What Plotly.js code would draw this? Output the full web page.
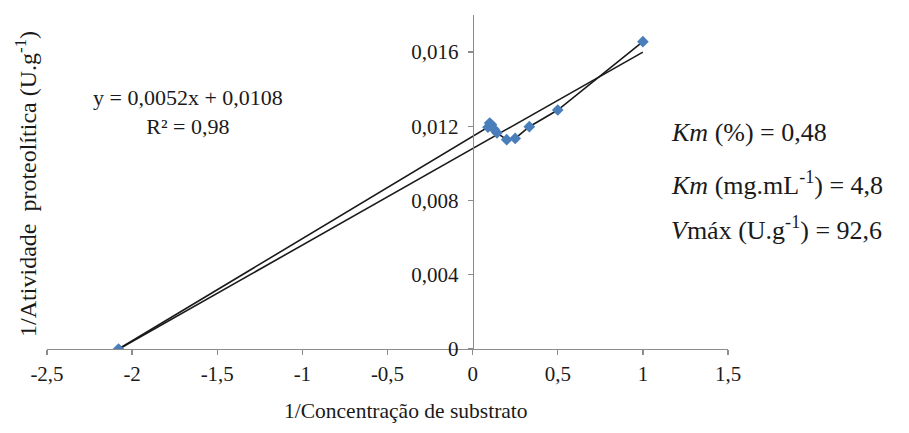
<!DOCTYPE html>
<html>
<head>
<meta charset="utf-8">
<script src="https://cdn.plot.ly/plotly-3.0.1.min.js"></script>
<style>
  html, body { margin: 0; padding: 0; background: #ffffff; }
  #chart { width: 909px; height: 433px; }
</style>
</head>
<body>
<div id="chart"></div>
<script>
// Lineweaver-Burk data: 1/[S] versus 1/v
const invSubstrate = [-2.08, 0.09, 0.10, 0.111, 0.125, 0.143, 0.20, 0.25, 0.333, 0.50, 1.00];
const invActivity  = [0.0000, 0.01195, 0.01218, 0.01208, 0.01185, 0.01165, 0.01128, 0.01135, 0.01198, 0.01288, 0.01656];

// Linear regression reported on the chart
const slope = 0.0052;
const intercept = 0.0108;
const rSquared = '0,98';
const trendX = [-2.08, 1.00];

// Axis ticks
const xTickVals = [-2.5, -2, -1.5, -1, -0.5, 0, 0.5, 1, 1.5];
const xTickText = ['-2,5', '-2', '-1,5', '-1', '-0,5', '0', '0,5', '1', '1,5'];
const yTickVals = [0, 0.004, 0.008, 0.012, 0.016];
const yTickText = ['0', '0,004', '0,008', '0,012', '0,016'];

const trendY = trendX.map(x => slope * x + intercept);
const fmt = v => v.toFixed(4).replace('.', ',');

const serif = '"Liberation Serif", "Times New Roman", serif';
const axisGrey = '#8c8c8c';
const ink = '#1a1a1a';

const traces = [
  {
    x: trendX, y: trendY, type: 'scatter', mode: 'lines',
    line: { color: ink, width: 1.6 },
    hoverinfo: 'skip', showlegend: false
  },
  {
    x: invSubstrate, y: invActivity, type: 'scatter', mode: 'lines+markers',
    line: { color: ink, width: 1.6 },
    marker: { symbol: 'diamond', size: 9, color: '#4a7ebb' },
    showlegend: false
  }
];

const xMin = -2.5, xMax = 1.5;

const layout = {
  width: 909, height: 433,
  margin: { l: 47, r: 181, t: 15, b: 84 },
  paper_bgcolor: '#ffffff', plot_bgcolor: '#ffffff',
  font: { family: serif, size: 21, color: ink },
  xaxis: {
    range: [xMin, xMax], tickvals: xTickVals, ticktext: xTickText,
    showgrid: false, zeroline: false, showline: true, linecolor: axisGrey, linewidth: 1.3,
    ticks: 'outside', ticklen: 5, tickcolor: axisGrey, tickwidth: 1.3,
    tickfont: { family: serif, size: 21, color: ink }
  },
  yaxis: {
    range: [0, 0.018], tickvals: yTickVals, ticktext: yTickText,
    anchor: 'free', position: (0 - xMin) / (xMax - xMin),
    showgrid: false, zeroline: false, showline: true, linecolor: axisGrey, linewidth: 1.3,
    ticks: 'outside', ticklen: 5, tickcolor: axisGrey, tickwidth: 1.3, ticklabelstandoff: 5,
    tickfont: { family: serif, size: 21, color: ink }
  },
  annotations: [
    { xref: 'paper', yref: 'paper', x: 0.527, y: -0.185, yanchor: 'middle', xanchor: 'center', showarrow: false,
      text: '1/Concentração de substrato', font: { family: serif, size: 21.5, color: ink } },
    { xref: 'paper', yref: 'paper', x: -0.032, y: 0.495, xanchor: 'center', yanchor: 'middle', showarrow: false, textangle: -90,
      text: '1/Atividade  proteolítica (U.g<sup>-1</sup>)', font: { family: serif, size: 24, color: ink } },
    { xref: 'paper', yref: 'paper', x: 0.207, y: 0.71, xanchor: 'center', yanchor: 'middle', showarrow: false,
      text: 'y = ' + fmt(slope) + 'x + ' + fmt(intercept) + '<br>R² = ' + rSquared,
      font: { family: serif, size: 22, color: ink } },
    { xref: 'paper', yref: 'paper', x: 0.913, y: 0.647, xanchor: 'left', yanchor: 'middle', showarrow: false, align: 'left',
      text: '<i>Km</i> (%) = 0,48', font: { family: serif, size: 26, color: ink } },
    { xref: 'paper', yref: 'paper', x: 0.913, y: 0.495, xanchor: 'left', yanchor: 'middle', showarrow: false, align: 'left',
      text: '<i>Km</i> (mg.mL<sup>-1</sup>) = 4,8', font: { family: serif, size: 26, color: ink } },
    { xref: 'paper', yref: 'paper', x: 0.913, y: 0.36, xanchor: 'left', yanchor: 'middle', showarrow: false, align: 'left',
      text: '<i>V</i>máx (U.g<sup>-1</sup>) = 92,6', font: { family: serif, size: 26, color: ink } }
  ]
};

Plotly.newPlot('chart', traces, layout, { displayModeBar: false, staticPlot: true });
</script>
</body>
</html>
